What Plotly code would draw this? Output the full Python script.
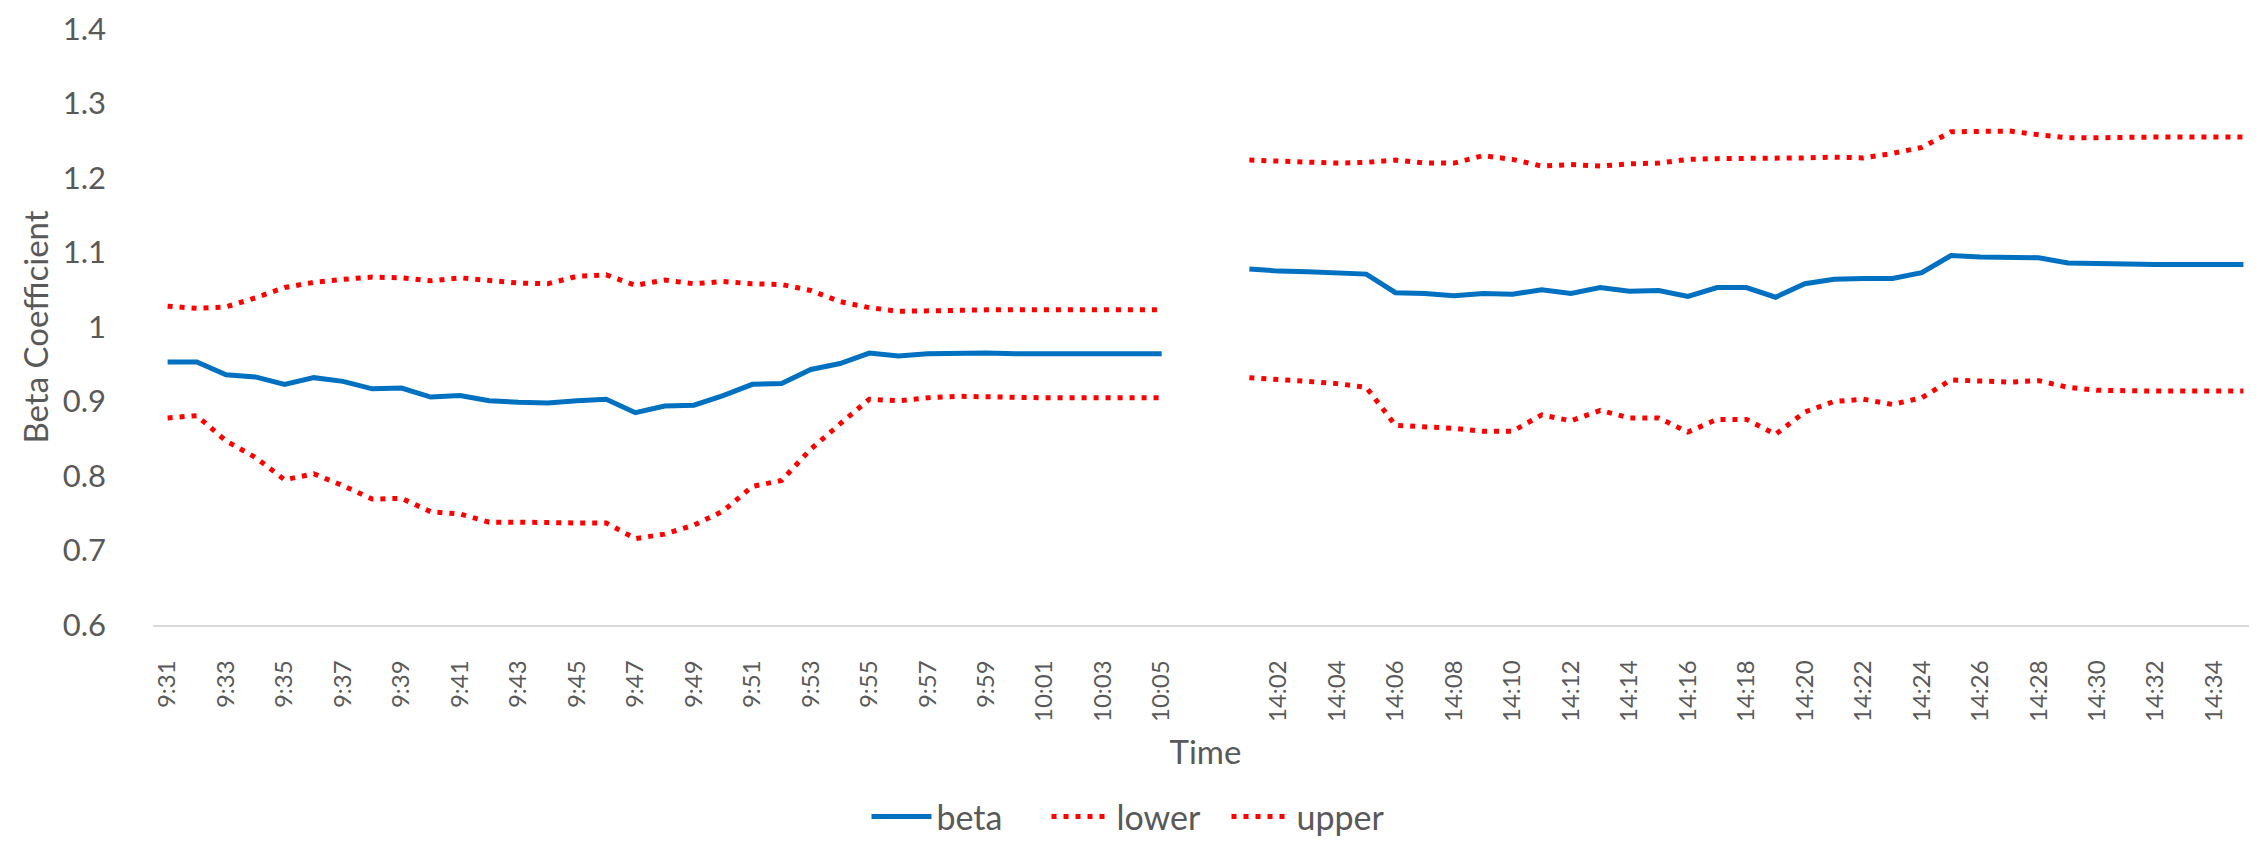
import plotly.graph_objects as go

# ---- categories (minutes) ----
times_am = ["9:31", "9:32", "9:33", "9:34", "9:35", "9:36", "9:37", "9:38", "9:39", "9:40",
            "9:41", "9:42", "9:43", "9:44", "9:45", "9:46", "9:47", "9:48", "9:49", "9:50",
            "9:51", "9:52", "9:53", "9:54", "9:55", "9:56", "9:57", "9:58", "9:59", "10:00",
            "10:01", "10:02", "10:03", "10:04", "10:05"]
times_gap = ["10:06", "14:00"]
times_pm = ["14:01", "14:02", "14:03", "14:04", "14:05", "14:06", "14:07", "14:08", "14:09", "14:10",
            "14:11", "14:12", "14:13", "14:14", "14:15", "14:16", "14:17", "14:18", "14:19", "14:20",
            "14:21", "14:22", "14:23", "14:24", "14:25", "14:26", "14:27", "14:28", "14:29", "14:30",
            "14:31", "14:32", "14:33", "14:34", "14:35"]

# ---- series values ----
beta_am = [0.953, 0.953, 0.936, 0.933, 0.923, 0.932, 0.927, 0.917, 0.918, 0.906,
           0.908, 0.901, 0.899, 0.898, 0.901, 0.903, 0.885, 0.894, 0.895, 0.908,
           0.923, 0.924, 0.943, 0.951, 0.965, 0.961, 0.964, 0.965, 0.965, 0.964,
           0.964, 0.964, 0.964, 0.964, 0.964]
lower_am = [0.878, 0.881, 0.847, 0.825, 0.795, 0.803, 0.787, 0.769, 0.770, 0.752,
            0.749, 0.738, 0.738, 0.737, 0.737, 0.737, 0.716, 0.722, 0.734, 0.753,
            0.786, 0.794, 0.836, 0.870, 0.903, 0.901, 0.905, 0.907, 0.906, 0.905,
            0.905, 0.905, 0.905, 0.905, 0.905]
upper_am = [1.028, 1.025, 1.027, 1.039, 1.053, 1.060, 1.064, 1.067, 1.066, 1.062,
            1.066, 1.062, 1.059, 1.058, 1.068, 1.070, 1.056, 1.063, 1.058, 1.061,
            1.058, 1.057, 1.049, 1.034, 1.026, 1.021, 1.022, 1.023, 1.023, 1.023,
            1.023, 1.023, 1.023, 1.023, 1.023]

beta_pm = [1.078, 1.075, 1.074, 1.072, 1.071, 1.046, 1.045, 1.042, 1.045, 1.044,
           1.050, 1.045, 1.053, 1.048, 1.049, 1.041, 1.053, 1.053, 1.040, 1.058,
           1.064, 1.065, 1.065, 1.073, 1.096, 1.094, 1.094, 1.093, 1.086, 1.085,
           1.085, 1.084, 1.084, 1.084, 1.084]
lower_pm = [0.932, 0.930, 0.927, 0.924, 0.919, 0.868, 0.866, 0.864, 0.860, 0.860,
            0.882, 0.874, 0.888, 0.878, 0.878, 0.859, 0.876, 0.876, 0.856, 0.886,
            0.900, 0.903, 0.896, 0.905, 0.929, 0.927, 0.926, 0.928, 0.919, 0.915,
            0.914, 0.914, 0.914, 0.914, 0.914]
upper_pm = [1.224, 1.223, 1.222, 1.220, 1.221, 1.224, 1.220, 1.220, 1.230, 1.225,
            1.216, 1.218, 1.216, 1.219, 1.220, 1.225, 1.226, 1.226, 1.226, 1.227,
            1.228, 1.227, 1.233, 1.241, 1.262, 1.262, 1.263, 1.258, 1.254, 1.254,
            1.255, 1.255, 1.255, 1.255, 1.255]

y_ticks = [0.6, 0.7, 0.8, 0.9, 1.0, 1.1, 1.2, 1.3, 1.4]
y_tick_text = ["0.6", "0.7", "0.8", "0.9", "1", "1.1", "1.2", "1.3", "1.4"]

# ---- assemble ----
categories = times_am + times_gap + times_pm
gap = [None] * len(times_gap)
beta = beta_am + gap + beta_pm
lower = lower_am + gap + lower_pm
upper = upper_am + gap + upper_pm
tick_labels = categories[0::2]
tick_labels = [t for t in tick_labels if t not in times_gap]

FONT = "Lato, Calibri, 'Liberation Sans', sans-serif"
GREY = "#595959"

fig = go.Figure()
fig.add_trace(go.Scatter(x=categories, y=beta, name="beta", mode="lines",
                         line=dict(color="#0070C0", width=5), connectgaps=False))
fig.add_trace(go.Scatter(x=categories, y=lower, name="lower", mode="lines",
                         line=dict(color="#FF0000", width=5, dash="5px,7px"), connectgaps=False))
fig.add_trace(go.Scatter(x=categories, y=upper, name="upper", mode="lines",
                         line=dict(color="#FF0000", width=5, dash="5px,7px"), connectgaps=False))

fig.update_layout(
    width=2257, height=847, autosize=False,
    margin=dict(l=145, r=7, t=21, b=230),
    paper_bgcolor="white", plot_bgcolor="white",
    font=dict(family=FONT, color=GREY),
    showlegend=True,
    legend=dict(orientation="h", xref="container", yref="container",
                x=0.5, xanchor="center", y=0.045, yanchor="middle",
                font=dict(size=34, color=GREY, family=FONT),
                itemwidth=60, entrywidth=105, traceorder="normal"),
    xaxis=dict(type="category", categoryorder="array", categoryarray=categories,
               range=[-0.5, len(categories) - 0.5],
               tickmode="array", tickvals=tick_labels, ticktext=tick_labels,
               tickangle=-90, tickfont=dict(size=24, color=GREY, family=FONT),
               showgrid=False, zeroline=False,
               showline=True, linecolor="#D9D9D9", linewidth=1.5,
               ticks="", ticklabelstandoff=24,
               title=dict(text="Time", font=dict(size=33, color=GREY, family=FONT), standoff=20)),
    yaxis=dict(range=[0.6, 1.4], tickmode="array", tickvals=y_ticks, ticktext=y_tick_text,
               tickfont=dict(size=31, color=GREY, family=FONT),
               ticklabeloverflow="allow", automargin="left",
               showgrid=False, zeroline=False, showline=False, ticks="",
               ticklabelstandoff=46,
               title=dict(text="Beta Coefficient", font=dict(size=33, color=GREY, family=FONT), standoff=4)),
)

fig.write_html("out.html")
